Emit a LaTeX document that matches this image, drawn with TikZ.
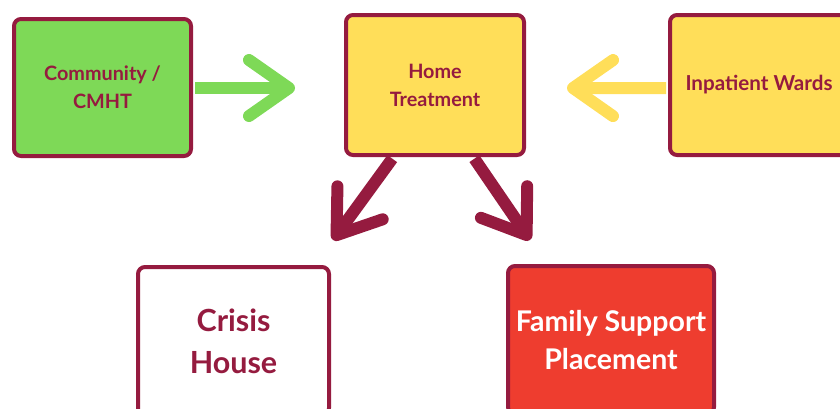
\documentclass[tikz,border=0pt]{standalone}
\usepackage{fontspec}
\setmainfont{Lato}
\usetikzlibrary{arrows.meta}
\definecolor{wine}{HTML}{951B3F}
\definecolor{grass}{HTML}{7ED957}
\definecolor{sun}{HTML}{FFDE59}
\definecolor{flame}{HTML}{EE3D2F}

\begin{document}
\begin{tikzpicture}[x=1pt, y=-1pt,
  box/.style={draw=wine, line width=4pt, rounded corners=7pt, align=center, text=wine,
    font=\bfseries\fontsize{19.8}{28}\selectfont, inner sep=0pt},
  bigbox/.style={box, font=\bfseries\fontsize{30.5}{42}\selectfont},
  flow/.style={line width=12pt, line cap=butt, shorten <=2pt,
    -{Straight Barb[length=40pt, width=56pt, round]}}]
\useasboundingbox (0,0) rectangle (840,408);
\node[box, fill=grass, minimum width=177pt, minimum height=137pt] (comm) at (102.5,87.5) {Community /\\CMHT};
\node[box, fill=sun, minimum width=178pt, minimum height=140pt] (home) at (435,85) {Home\\Treatment};
\node[box, fill=sun, minimum width=178pt, minimum height=140pt, font=\bfseries\fontsize{20.6}{28}\selectfont] (inpat) at (759,85) {Inpatient Wards};
\node[bigbox, fill=white, minimum width=191pt, minimum height=148pt] (crisis) at (233.5,341) {Crisis\\House};
\node[bigbox, fill=flame, text=white, minimum width=206pt, minimum height=148pt, font=\bfseries\fontsize{28.5}{38}\selectfont] (family) at (611,340) {Family Support\\Placement};
\coordinate (gtip) at (295,88);
\coordinate (ytip) at (567,88);
\coordinate (ltip) at (333,240);
\coordinate (rtip) at (530,240);
\draw[flow, grass] (comm.east |- gtip) -- (gtip);
\draw[flow, sun] (inpat.182) -- (ytip);
\draw[flow, wine] (home.-120) -- (ltip);
\draw[flow, wine] (home.-62) -- (rtip);
\end{tikzpicture}
\end{document}
